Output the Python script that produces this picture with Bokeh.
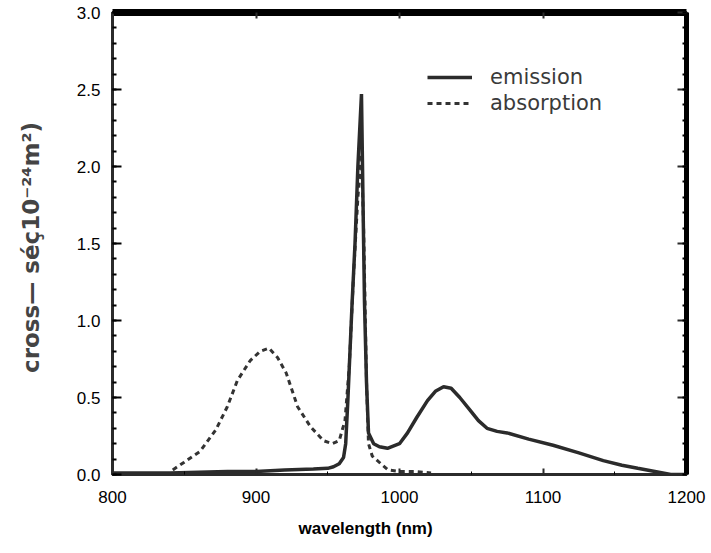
from bokeh.plotting import figure
from bokeh.models import (ColumnDataSource, LinearAxis, Range1d, FixedTicker,
                          Legend, LegendItem, Title, PrintfTickFormatter)
from bokeh.embed import file_html
from bokeh.resources import INLINE

# ---- data ----
em_wl = [800, 820, 840, 860, 880, 900, 920, 940, 950, 954, 958, 961, 962.5, 964,
         967, 969, 971, 973.5, 975, 975.6, 977, 978.4, 982, 986, 991.6, 1000,
         1005.6, 1012, 1019.5, 1025, 1030.7, 1036, 1042, 1049, 1055, 1061, 1068,
         1075, 1090, 1107, 1125, 1142, 1155, 1166, 1178, 1189, 1200]
em_val = [0.01, 0.01, 0.01, 0.015, 0.02, 0.02, 0.03, 0.035, 0.04, 0.05, 0.07, 0.11,
          0.2, 0.48, 1.12, 1.5, 2.0, 2.47, 1.5, 1.12, 0.6, 0.27, 0.2, 0.18, 0.17,
          0.2, 0.27, 0.37, 0.48, 0.54, 0.57, 0.56, 0.5, 0.42, 0.35, 0.30, 0.28,
          0.27, 0.23, 0.19, 0.14, 0.09, 0.06, 0.04, 0.02, 0.0, 0.0]

ab_wl = [842, 850, 861, 872, 880, 887, 896, 903, 909, 915, 921, 929, 938, 947, 953,
         958, 962, 965, 968, 971, 973.5, 975, 976, 977, 978.4, 981, 987, 992, 1000,
         1010, 1022]
ab_val = [0.03, 0.08, 0.15, 0.29, 0.44, 0.61, 0.74, 0.8, 0.82, 0.76, 0.66, 0.44,
          0.31, 0.22, 0.2, 0.22, 0.35, 0.7, 1.3, 1.8, 2.08, 1.6, 1.1, 0.6, 0.2,
          0.12, 0.07, 0.03, 0.02, 0.02, 0.01]

x_ticks = [800, 900, 1000, 1100, 1200]
y_ticks = [0.0, 0.5, 1.0, 1.5, 2.0, 2.5, 3.0]
series_names = ["emission", "absorption"]
x_label = "wavelength (nm)"
y_label = "cross\u2014  s\u00e9\u00e710\u207b\u00b2\u2074m\u00b2)"

FONT = "Liberation Sans"
INK = "#2b2b2b"
y_minor = [i / 10 for i in range(0, 31)]

p = figure(width=708, height=553, output_backend="svg", toolbar_location=None,
           x_range=Range1d(800, 1200), y_range=Range1d(0, 3.0),
           min_border_left=112, min_border_right=22, min_border_top=12,
           min_border_bottom=79, background_fill_color="white",
           border_fill_color="white")
p.grid.visible = False
p.outline_line_color = INK
p.outline_line_width = 3

em_src = ColumnDataSource(dict(x=em_wl, y=em_val))
ab_src = ColumnDataSource(dict(x=ab_wl, y=ab_val))
r_ab = p.line("x", "y", source=ab_src, line_color="#333333", line_width=3,
              line_dash="5 4")
r_em = p.line("x", "y", source=em_src, line_color=INK, line_width=3.5)

# bottom axis
xa = p.xaxis[0]
xa.ticker = FixedTicker(ticks=x_ticks, minor_ticks=[850, 950, 1050, 1150])
xa.major_label_text_font = FONT
xa.major_label_text_font_size = "17px"
xa.major_label_text_color = "black"
xa.major_label_standoff = 16
xa.major_tick_in = 6
xa.major_tick_out = 0
xa.minor_tick_in = 3
xa.minor_tick_out = 0
xa.axis_line_width = 3
xa.axis_line_color = INK
xa.major_tick_line_color = INK
xa.major_tick_line_width = 2

# left axis
ya = p.yaxis[0]
ya.ticker = FixedTicker(ticks=y_ticks, minor_ticks=y_minor)
ya.formatter = PrintfTickFormatter(format="%.1f")
ya.major_label_text_font = FONT
ya.major_label_text_font_size = "17px"
ya.major_label_text_color = "black"
ya.major_label_standoff = 12
ya.major_tick_in = 9
ya.major_tick_out = 0
ya.minor_tick_in = 4
ya.minor_tick_out = 0
ya.axis_line_width = 3
ya.axis_line_color = INK
ya.major_tick_line_width = 2
ya.minor_tick_line_width = 2
ya.axis_label = y_label
ya.axis_label_text_font = "DejaVu Sans"
ya.axis_label_text_font_style = "bold"
ya.axis_label_text_font_size = "23px"
ya.axis_label_text_color = "#444444"
ya.axis_label_standoff = 30

# top axis (ticks only)
top = LinearAxis(ticker=FixedTicker(ticks=x_ticks, minor_ticks=[]),
                 major_label_overrides={t: "" for t in x_ticks},
                 major_label_standoff=0,
                 major_tick_in=6, major_tick_out=0, minor_tick_in=0,
                 minor_tick_out=0, axis_line_width=7, axis_line_color="black",
                 major_tick_line_color=INK, major_tick_line_width=2)
p.add_layout(top, "above")

# right axis (ticks only)
right = LinearAxis(ticker=FixedTicker(ticks=y_ticks, minor_ticks=y_minor),
                   major_label_overrides={t: "" for t in y_ticks},
                   major_label_standoff=0,
                   major_tick_in=9, major_tick_out=0, minor_tick_in=4,
                   minor_tick_out=0, axis_line_width=5, axis_line_color="black",
                   major_tick_line_color=INK, major_tick_line_width=2,
                   minor_tick_line_width=2)
p.add_layout(right, "right")

# x label, placed off-centre as in the reference
p.add_layout(Title(text=x_label, align="left", offset=186, standoff=23,
                   vertical_align="bottom",
                   text_font=FONT, text_font_size="17px",
                   text_font_style="bold", text_color="black"), "below")

legend = Legend(items=[LegendItem(label=series_names[0], renderers=[r_em]),
                       LegendItem(label=series_names[1], renderers=[r_ab])],
                location=(315, 359), glyph_width=45, glyph_height=20,
                label_text_font="DejaVu Sans", label_text_font_size="21px",
                label_text_color="#3a3a3a",
                border_line_color=None, background_fill_alpha=0,
                spacing=2, padding=4, label_standoff=18)
p.add_layout(legend)

open("out.html", "w").write(file_html(p, INLINE))
